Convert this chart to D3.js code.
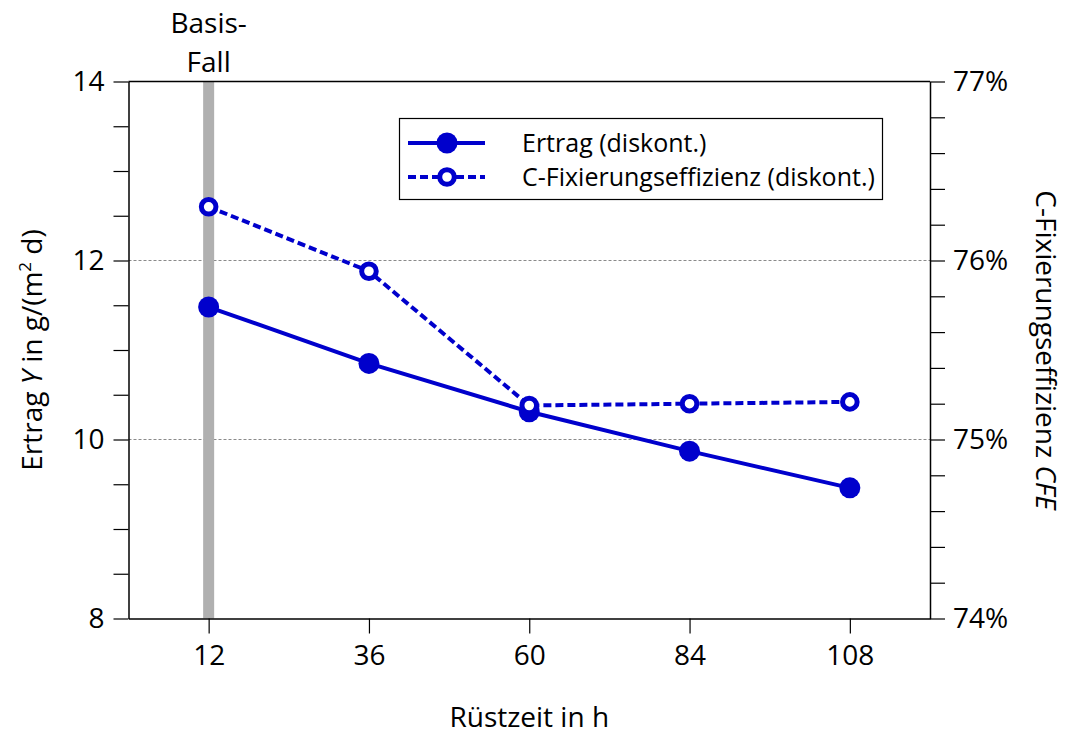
<!DOCTYPE html>
<html>
<head>
<meta charset="utf-8">
<script src="https://cdn.jsdelivr.net/npm/d3@7"></script>
<style>
  html, body { margin: 0; padding: 0; background: #fff; }
  svg { display: block; font-family: "Open Sans", "Noto Sans", sans-serif; }
</style>
</head>
<body>
<svg id="chart" width="1072" height="736"></svg>
<script>
// Setup time (h) and results
const ruestzeit = [12, 36, 60, 84, 108];
const ertrag = [11.48, 10.85, 10.31, 9.87, 9.46];          // g/(m² d)
const cfe = [76.30, 75.94, 75.19, 75.20, 75.21];            // %
const xTicks = [12, 36, 60, 84, 108];
const yLeftTicks = [8, 10, 12, 14];
const yRightTicks = [74, 75, 76, 77];
const gridValues = [10, 12];
const basisFall = 12;
const legendLabels = ["Ertrag (diskont.)", "C-Fixierungseffizienz (diskont.)"];

const blue = "#0000cc";
const svg = d3.select("#chart");
const m = { left: 128.5, right: 930, top: 81.5, bottom: 618.5 };

const x = d3.scaleLinear().domain([0, 120]).range([m.left, m.right]);
const yL = d3.scaleLinear().domain([8, 14]).range([m.bottom, m.top]);
const yR = d3.scaleLinear().domain([74, 77]).range([m.bottom, m.top]);

const fontSize = 28;

// horizontal grid lines
svg.append("g").selectAll("line").data(gridValues).join("line")
  .attr("x1", m.left).attr("x2", m.right)
  .attr("y1", d => yL(d)).attr("y2", d => yL(d))
  .attr("stroke", "#8a8a8a").attr("stroke-width", 1)
  .attr("stroke-dasharray", "3,2");

// base case marker bar
svg.append("rect")
  .attr("x", x(basisFall) - 5.5).attr("width", 11)
  .attr("y", m.top).attr("height", m.bottom - m.top)
  .attr("fill", "#b0b0b0");

// frame top
svg.append("line")
  .attr("x1", m.left).attr("x2", m.right)
  .attr("y1", m.top).attr("y2", m.top)
  .attr("stroke", "#000").attr("stroke-width", 1.5);

// axes
function styleAxis(g) {
  g.selectAll(".domain").attr("stroke", "#000").attr("stroke-width", 1.5);
  g.selectAll(".tick line").attr("stroke", "#000").attr("stroke-width", 1.2);
  g.selectAll(".tick text").attr("fill", "#000")
    .style("font-size", fontSize + "px").style("font-family", "'Open Sans', sans-serif");
}

const xAxis = svg.append("g")
  .attr("transform", `translate(0,${m.bottom})`)
  .call(d3.axisBottom(x).tickValues(xTicks).tickSize(15).tickSizeOuter(0).tickPadding(12));
styleAxis(xAxis);

const yLeftMinor = d3.range(8, 14.001, 0.5);
const yAxisL = svg.append("g")
  .attr("transform", `translate(${m.left},0)`)
  .call(d3.axisLeft(yL).tickValues(yLeftMinor).tickSize(15).tickSizeOuter(0).tickPadding(9)
    .tickFormat(d => yLeftTicks.includes(d) ? d3.format("d")(d) : ""));
styleAxis(yAxisL);

const yRightMinor = d3.range(74, 77.001, 0.2).map(v => Math.round(v * 10) / 10);
const yAxisR = svg.append("g")
  .attr("transform", `translate(${m.right},0)`)
  .call(d3.axisRight(yR).tickValues(yRightMinor).tickSize(15).tickSizeOuter(0).tickPadding(8)
    .tickFormat(d => yRightTicks.includes(d) ? d + "%" : ""));
styleAxis(yAxisR);

// axis titles
svg.append("text")
  .attr("x", (m.left + m.right) / 2).attr("y", 727)
  .attr("text-anchor", "middle")
  .style("font-size", fontSize + "px")
  .text("Rüstzeit in h");

const yTitle = svg.append("text")
  .attr("transform", `translate(42,${(m.top + m.bottom) / 2}) rotate(-90)`)
  .attr("text-anchor", "middle")
  .style("font-size", fontSize + "px");
yTitle.append("tspan").text("Ertrag ");
yTitle.append("tspan").style("font-style", "italic").text("Y");
yTitle.append("tspan").text(" in g/(m");
yTitle.append("tspan").attr("dy", -11).style("font-size", "17px").text("2");
yTitle.append("tspan").attr("dy", 11).text(" d)");

const rTitle = svg.append("text")
  .attr("transform", `translate(1036,${(m.top + m.bottom) / 2}) rotate(90)`)
  .attr("text-anchor", "middle")
  .style("font-size", fontSize + "px");
rTitle.append("tspan").text("C-Fixierungseffizienz ");
rTitle.append("tspan").style("font-style", "italic").text("CFE");

// base case label
const bf = svg.append("text")
  .attr("text-anchor", "middle")
  .style("font-size", fontSize + "px");
bf.append("tspan").attr("x", x(basisFall)).attr("y", 33).text("Basis-");
bf.append("tspan").attr("x", x(basisFall)).attr("y", 72).text("Fall");

// series
const ertragPts = ruestzeit.map((t, i) => [x(t), yL(ertrag[i])]);
const cfePts = ruestzeit.map((t, i) => [x(t), yR(cfe[i])]);
const line = d3.line();

svg.append("path").attr("d", line(cfePts))
  .attr("fill", "none").attr("stroke", blue).attr("stroke-width", 4)
  .attr("stroke-dasharray", "8,4");
svg.append("path").attr("d", line(ertragPts))
  .attr("fill", "none").attr("stroke", blue).attr("stroke-width", 4);

svg.append("g").selectAll("circle").data(ertragPts).join("circle")
  .attr("cx", d => d[0]).attr("cy", d => d[1]).attr("r", 10.5)
  .attr("fill", blue);
svg.append("g").selectAll("circle").data(cfePts).join("circle")
  .attr("cx", d => d[0]).attr("cy", d => d[1]).attr("r", 7.3)
  .attr("fill", "#fff").attr("stroke", blue).attr("stroke-width", 5);

// legend
const lg = svg.append("g");
lg.append("rect").attr("x", 399.5).attr("y", 118.5).attr("width", 483).attr("height", 81)
  .attr("fill", "#fff").attr("stroke", "#000").attr("stroke-width", 1.2);
const rows = [143, 177];
lg.append("line").attr("x1", 408).attr("x2", 485).attr("y1", rows[0]).attr("y2", rows[0])
  .attr("stroke", blue).attr("stroke-width", 4);
lg.append("circle").attr("cx", 447).attr("cy", rows[0]).attr("r", 10.5).attr("fill", blue);
lg.append("line").attr("x1", 408).attr("x2", 485).attr("y1", rows[1]).attr("y2", rows[1])
  .attr("stroke", blue).attr("stroke-width", 4).attr("stroke-dasharray", "8,4");
lg.append("circle").attr("cx", 447).attr("cy", rows[1]).attr("r", 7.3)
  .attr("fill", "#fff").attr("stroke", blue).attr("stroke-width", 5);
lg.selectAll("text.lab").data(legendLabels).join("text")
  .attr("class", "lab")
  .attr("x", 522).attr("y", (d, i) => rows[i])
  .attr("dy", "0.35em")
  .style("font-size", "25px")
  .text(d => d);
</script>
</body>
</html>
